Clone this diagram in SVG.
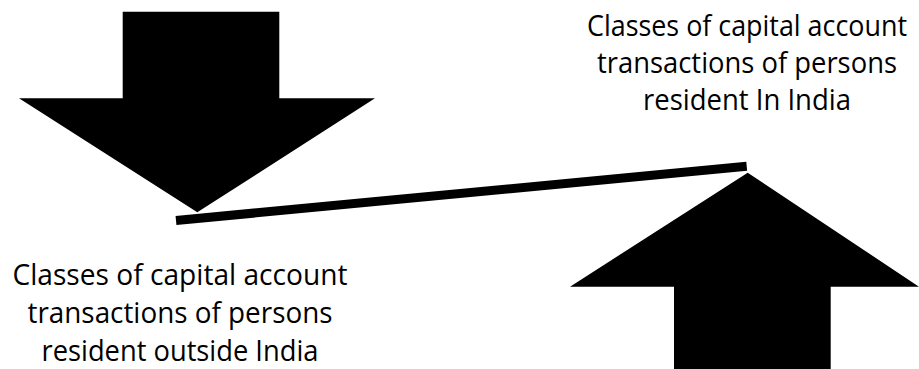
<svg xmlns="http://www.w3.org/2000/svg" width="919" height="369" viewBox="0 0 919 369">
<style>
.lbl{font-family:"Open Sans","Noto Sans","Liberation Sans",sans-serif;font-size:29px;fill:#000;text-anchor:middle}
.arr{fill:#000}
</style>
<rect width="919" height="369" fill="#fff"/>
<g id="down-arrow">
<polygon class="arr" points="122.7,11.7 279.3,11.7 279.3,98.3 375,98.3 197.3,212.3 19,98.3 122.7,98.3"/>
</g>
<g id="up-arrow">
<polygon class="arr" points="747.7,172.7 919,286.7 830.7,286.7 830.7,369 674,369 674,286.7 570,286.7"/>
</g>
<g id="connectors">
<line x1="176" y1="220.5" x2="746.7" y2="166.2" stroke="#000" stroke-width="9"/>
</g>
<g id="label-in">
<text class="lbl" x="747" y="36" textLength="320" lengthAdjust="spacingAndGlyphs">Classes of capital account</text>
<text class="lbl" x="747" y="73" textLength="300" lengthAdjust="spacingAndGlyphs">transactions of persons</text>
<text class="lbl" x="747" y="110" textLength="208" lengthAdjust="spacingAndGlyphs">resident In India</text>
</g>
<g id="label-out">
<text class="lbl" x="180" y="285" textLength="335" lengthAdjust="spacingAndGlyphs">Classes of capital account</text>
<text class="lbl" x="180" y="323" textLength="305" lengthAdjust="spacingAndGlyphs">transactions of persons</text>
<text class="lbl" x="180" y="361" textLength="277" lengthAdjust="spacingAndGlyphs">resident outside India</text>
</g>
</svg>
